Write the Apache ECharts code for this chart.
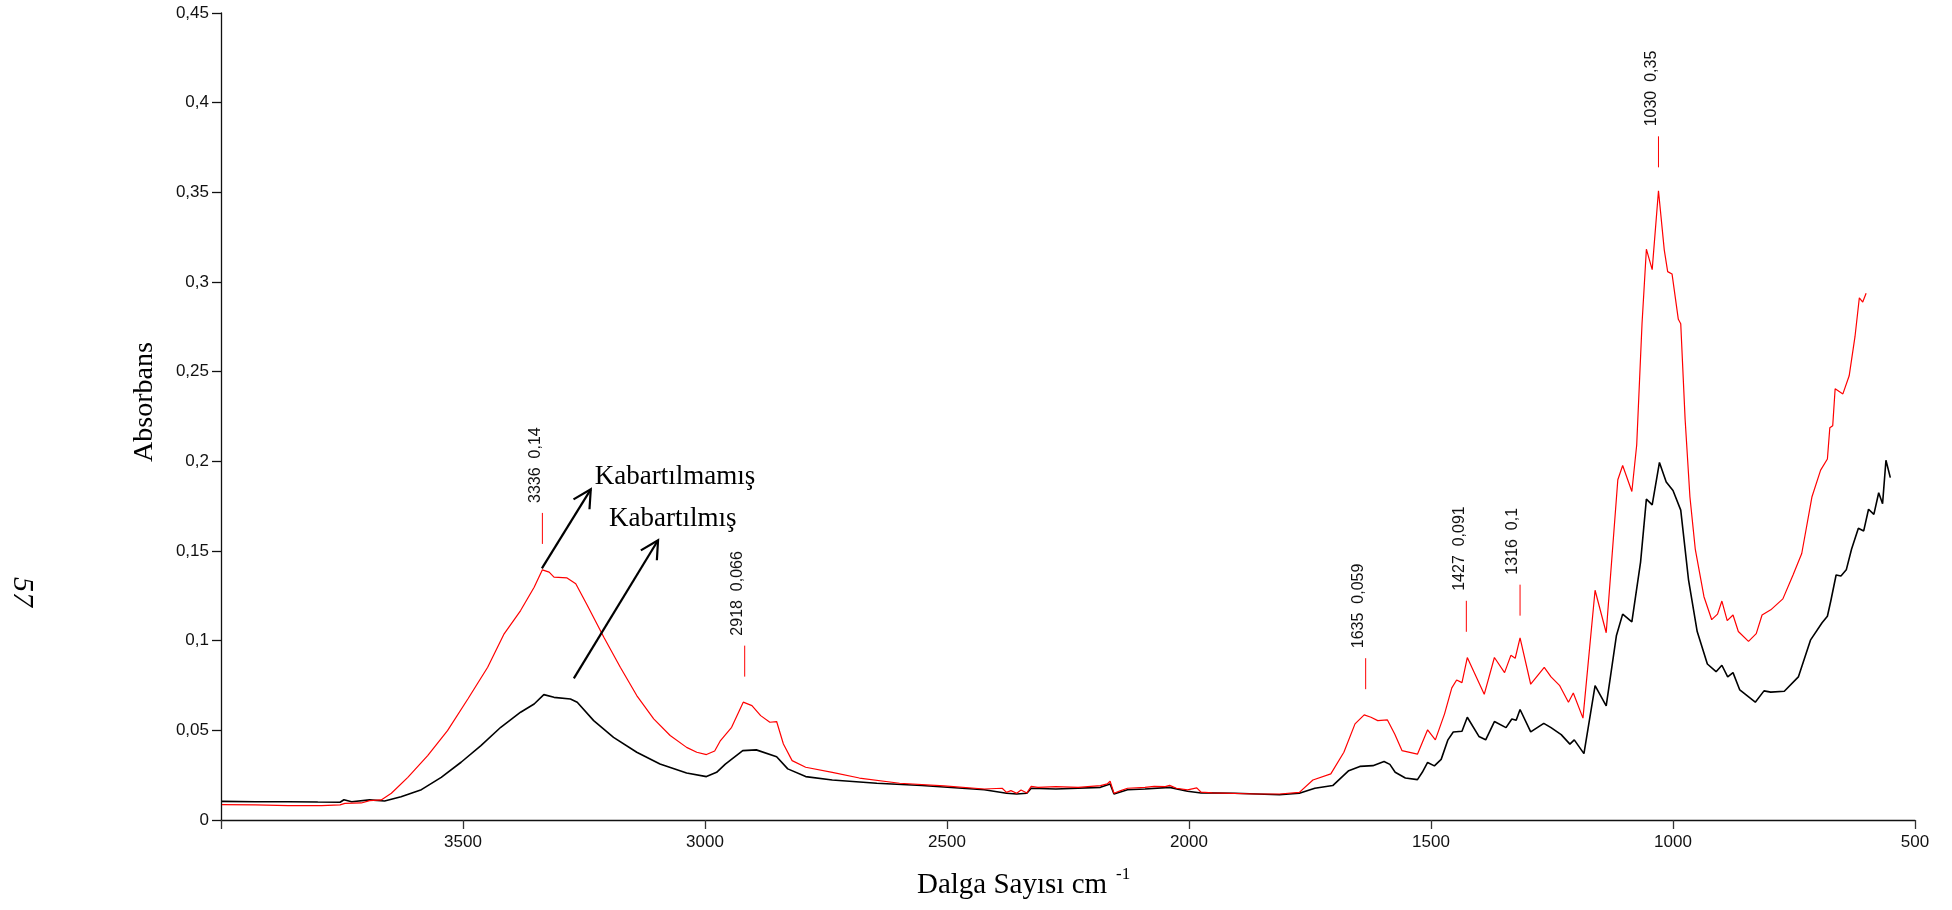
<!DOCTYPE html>
<html><head><meta charset="utf-8">
<script src="https://cdn.jsdelivr.net/npm/echarts@6/dist/echarts.min.js"></script>
<style>html,body{margin:0;padding:0;background:#fff}#c{width:1952px;height:910px}</style>
</head><body><div id="c"></div>
<script>
// Kabartılmamış (red) spectrum
const redWave = [3998,3929,3861,3792,3754,3744,3710,3693,3669,3648,3614,3573,3532,3490,3449,3415,3381,3353,3336,3322,3312,3285,3267,3243,3209,3175,3141,3106,3072,3038,3017,2997,2980,2968,2945,2921,2903,2885,2866,2852,2838,2820,2792,2737,2681,2598,2506,2423,2386,2377,2368,2356,2347,2335,2326,2312,2275,2229,2183,2169,2163,2155,2141,2127,2091,2072,2049,2040,2026,2003,1984,1975,1952,1860,1813,1772,1744,1707,1680,1657,1638,1624,1610,1590,1575,1560,1528,1507,1491,1472,1457,1447,1436,1425,1390,1369,1348,1335,1326,1316,1294,1266,1252,1234,1216,1206,1186,1161,1138,1114,1104,1085,1075,1064,1055,1043,1030,1018,1011,1002,989,984,975,965,954,936,920,908,899,888,876,865,844,828,816,798,773,752,734,713,695,681,676,670,665,649,636,624,615,608,601];
const redAbs = [0.0086,0.0084,0.0080,0.0080,0.0084,0.0093,0.0095,0.0108,0.0112,0.0149,0.0238,0.0359,0.0498,0.0675,0.0852,0.1038,0.1168,0.1298,0.1395,0.1382,0.1354,0.1350,0.1317,0.1196,0.1019,0.0852,0.0694,0.0564,0.0471,0.0405,0.0378,0.0365,0.0385,0.0443,0.0517,0.0657,0.0638,0.0582,0.0545,0.0549,0.0424,0.0331,0.0294,0.0266,0.0234,0.0205,0.0190,0.0173,0.0177,0.0154,0.0164,0.0149,0.0167,0.0151,0.0188,0.0182,0.0186,0.0182,0.0192,0.0201,0.0216,0.0149,0.0164,0.0177,0.0182,0.0188,0.0186,0.0193,0.0177,0.0168,0.0179,0.0155,0.0151,0.0145,0.0145,0.0154,0.0223,0.0257,0.0378,0.0536,0.0586,0.0573,0.0554,0.0558,0.0480,0.0387,0.0367,0.0503,0.0447,0.0592,0.0737,0.0781,0.0766,0.0906,0.0701,0.0906,0.0822,0.0918,0.0902,0.1015,0.0757,0.0851,0.0798,0.0749,0.0657,0.0708,0.0568,0.1281,0.1044,0.1897,0.1977,0.1832,0.2091,0.2767,0.3183,0.3069,0.3509,0.3178,0.3058,0.3045,0.2792,0.2767,0.2236,0.1801,0.1511,0.1245,0.1117,0.1148,0.1221,0.1112,0.1143,0.1051,0.0996,0.1039,0.1143,0.1172,0.1233,0.1366,0.1486,0.1801,0.1951,0.2013,0.2187,0.2199,0.2405,0.2376,0.2477,0.2695,0.2912,0.2888,0.2937];

// Kabartılmış (black) spectrum
const blackWave = [3998,3929,3861,3800,3754,3746,3730,3693,3662,3628,3586,3545,3504,3463,3422,3381,3353,3333,3312,3278,3264,3230,3189,3141,3093,3038,2997,2976,2958,2922,2894,2852,2829,2792,2737,2645,2552,2423,2377,2356,2335,2326,2275,2183,2163,2155,2127,2091,2040,2003,1975,1906,1813,1772,1740,1703,1670,1647,1620,1597,1585,1574,1553,1528,1518,1507,1493,1479,1465,1454,1436,1425,1401,1387,1369,1345,1333,1324,1316,1294,1267,1252,1231,1213,1204,1184,1161,1138,1117,1104,1085,1067,1055,1043,1028,1014,1000,984,968,950,929,911,899,887,876,862,830,812,798,770,741,716,692,681,674,670,663,653,642,631,617,606,596,585,575,567,560,551];
const blackAbs = [0.0104,0.0102,0.0102,0.0100,0.0099,0.0113,0.0102,0.0112,0.0106,0.0130,0.0169,0.0238,0.0322,0.0415,0.0517,0.0601,0.0647,0.0699,0.0684,0.0675,0.0657,0.0554,0.0461,0.0378,0.0312,0.0262,0.0242,0.0266,0.0312,0.0387,0.0391,0.0353,0.0285,0.0242,0.0223,0.0205,0.0192,0.0169,0.0149,0.0145,0.0149,0.0177,0.0173,0.0182,0.0201,0.0145,0.0169,0.0173,0.0182,0.0160,0.0151,0.0149,0.0141,0.0149,0.0177,0.0192,0.0275,0.0299,0.0303,0.0326,0.0310,0.0266,0.0234,0.0225,0.0266,0.0321,0.0302,0.0338,0.0447,0.0491,0.0495,0.0573,0.0466,0.0447,0.0549,0.0515,0.0563,0.0556,0.0616,0.0491,0.0539,0.0515,0.0476,0.0423,0.0447,0.0370,0.0749,0.0636,0.1027,0.1148,0.1105,0.1438,0.1789,0.1757,0.1994,0.1885,0.1837,0.1728,0.1341,0.1051,0.0870,0.0827,0.0863,0.0798,0.0822,0.0725,0.0657,0.0720,0.0713,0.0718,0.0798,0.1003,0.1100,0.1136,0.1221,0.1221,0.1366,0.1361,0.1395,0.1511,0.1627,0.1612,0.1733,0.1704,0.1825,0.1764,0.2006,0.1909];

// Peak annotations on the red spectrum
const peakWave = [3336, 2918, 1635, 1427, 1316, 1030];
const peakAbs = [0.14, 0.066, 0.059, 0.091, 0.1, 0.35];

// Arrows (data coordinates) and their captions
const arrowStart = [[3337, 0.1403], [3271, 0.0790]];
const arrowEnd = [[3236, 0.1844], [3097, 0.1560]];
const arrowText = ['Kabartılmamış', 'Kabartılmış'];

const xTicks = [4000, 3500, 3000, 2500, 2000, 1500, 1000, 500];

const chart = echarts.init(document.getElementById('c'), null, {renderer: 'canvas'});
const sans = '"Liberation Sans", Arial, sans-serif';
const serif = '"Liberation Serif", "Times New Roman", serif';
const comma = v => String(+v.toFixed(3)).replace('.', ',');

const textOffsets = [[4, -12], [-49, -21]];

chart.setOption({
  animation: false,
  backgroundColor: '#fff',
  grid: {left: 221, right: 37, top: 13, bottom: 90, containLabel: false},
  xAxis: {
    type: 'value', min: 500, max: 4000, interval: 500, inverse: true,
    axisLine: {lineStyle: {color: '#111', width: 1.3}},
    axisTick: {length: 9, lineStyle: {color: '#333', width: 1.3}},
    axisLabel: {fontFamily: sans, fontSize: 17, color: '#111', margin: 14,
      formatter: v => v === xTicks[0] ? '' : String(v)},
    splitLine: {show: false}
  },
  yAxis: {
    type: 'value', min: 0, max: 0.45, interval: 0.05,
    axisLine: {show: true, lineStyle: {color: '#111', width: 1.3}},
    axisTick: {show: true, length: 9, lineStyle: {color: '#111', width: 1.3}},
    axisLabel: {fontFamily: sans, fontSize: 17, color: '#111', margin: 12,
      formatter: v => v === 0 ? '0' : comma(v)},
    splitLine: {show: false}
  },
  series: [
    {
      name: arrowText[1], type: 'line', showSymbol: false, symbol: 'none',
      data: blackWave.map((w, i) => [w, blackAbs[i]]),
      lineStyle: {color: '#000', width: 1.6}, z: 2
    },
    {
      name: arrowText[0], type: 'line', showSymbol: false, symbol: 'none',
      data: redWave.map((w, i) => [w, redAbs[i]]),
      lineStyle: {color: '#ff0000', width: 1.2}, z: 3
    },
    {
      type: 'custom', name: 'peaks', z: 5,
      data: peakWave.map((w, i) => [w, peakAbs[i]]),
      encode: {x: 0, y: 1},
      renderItem: (params, api) => {
        const i = params.dataIndex;
        const p = api.coord([api.value(0), api.value(1)]);
        return {
          type: 'group',
          children: [
            {type: 'line', shape: {x1: p[0], y1: p[1] - 25, x2: p[0], y2: p[1] - 56},
             style: {stroke: '#ff0000', lineWidth: 1}},
            {type: 'text', x: p[0] - 7, y: p[1] - 66, rotation: Math.PI / 2,
             style: {text: peakWave[i] + '  ' + comma(peakAbs[i]), fill: '#111',
               font: '16px ' + sans, align: 'left', verticalAlign: 'middle'}}
          ]
        };
      }
    },
    {
      type: 'custom', name: 'arrows', z: 6,
      data: arrowStart.map((s, i) => [s[0], s[1], arrowEnd[i][0], arrowEnd[i][1]]),
      encode: {x: [0, 2], y: [1, 3]},
      renderItem: (params, api) => {
        const i = params.dataIndex;
        const a = api.coord([api.value(0), api.value(1)]);
        const b = api.coord([api.value(2), api.value(3)]);
        const ang = Math.atan2(a[1] - b[1], a[0] - b[0]);
        const L = 20, d = 28 * Math.PI / 180;
        const b1 = [b[0] + L * Math.cos(ang + d), b[1] + L * Math.sin(ang + d)];
        const b2 = [b[0] + L * Math.cos(ang - d), b[1] + L * Math.sin(ang - d)];
        return {
          type: 'group',
          children: [
            {type: 'line', shape: {x1: a[0], y1: a[1], x2: b[0], y2: b[1]},
             style: {stroke: '#000', lineWidth: 2.2}},
            {type: 'polyline', shape: {points: [b1, b, b2]},
             style: {stroke: '#000', lineWidth: 2.2, fill: null}},
            {type: 'text', x: b[0] + textOffsets[i][0], y: b[1] + textOffsets[i][1],
             style: {text: arrowText[i], fill: '#000', font: '27px ' + serif,
               align: 'left', verticalAlign: 'middle'}}
          ]
        };
      }
    }
  ],
  graphic: [
    {type: 'text', x: 145, y: 402, rotation: Math.PI / 2, z: 100,
     style: {text: 'Absorbans', font: '28px ' + serif, fill: '#000', align: 'center', verticalAlign: 'middle'}},
    {type: 'text', x: 917, y: 885, z: 100,
     style: {text: 'Dalga Sayısı cm', font: '29px ' + serif, fill: '#000', align: 'left', verticalAlign: 'middle'}},
    {type: 'text', x: 1116, y: 866, z: 100,
     style: {text: '-1', font: '17px ' + serif, fill: '#000', align: 'left', verticalAlign: 'top'}},
    {type: 'text', x: 22, y: 592, rotation: -Math.PI / 2, z: 100,
     style: {text: '57', font: 'italic 30px ' + serif, fill: '#000', align: 'center', verticalAlign: 'middle'}}
  ]
});
</script>
</body></html>
